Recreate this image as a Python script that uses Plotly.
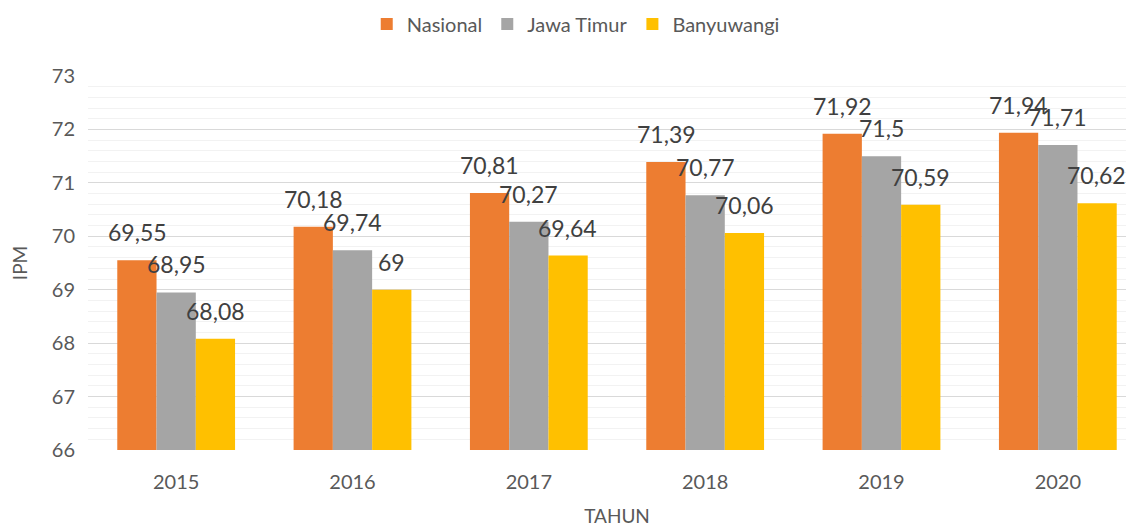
import plotly.graph_objects as go

years = ["2015", "2016", "2017", "2018", "2019", "2020"]
nasional = [69.55, 70.18, 70.81, 71.39, 71.92, 71.94]
jatim = [68.95, 69.74, 70.27, 70.77, 71.5, 71.71]
banyuwangi = [68.08, 69.0, 69.64, 70.06, 70.59, 70.62]

series = [
    ("Nasional", nasional, "#ED7D31"),
    ("Jawa Timur", jatim, "#A5A5A5"),
    ("Banyuwangi", banyuwangi, "#FFC000"),
]

FONT = "Lato, 'Open Sans', sans-serif"

def fmt(v):
    s = ("%.2f" % v).rstrip("0").rstrip(".")
    return s.replace(".", ",")

fig = go.Figure()
for name, vals, col in series:
    fig.add_trace(go.Bar(x=years, y=[v - 66 for v in vals], base=66, name=name,
                         marker=dict(color=col, line=dict(width=0)),
                         hoverinfo="skip"))

shifts = [-39, 0, 39]
for (name, vals, col), xs in zip(series, shifts):
    for i, v in enumerate(vals):
        fig.add_annotation(x=i, y=v, text=fmt(v), showarrow=False,
                           xshift=xs, yshift=12, yanchor="bottom",
                           font=dict(family=FONT, size=23, color="#404040"))

fig.update_layout(
    width=1140, height=519,
    margin=dict(l=80, r=2, t=68, b=77, autoexpand=False),
    paper_bgcolor="white", plot_bgcolor="white",
    barmode="group", bargap=0.332, bargroupgap=0,
    font=dict(family=FONT, color="#595959", size=20),
    legend=dict(orientation="h", x=0.461, xanchor="center", y=1.139, yanchor="middle",
                font=dict(size=20, color="#595959"), itemwidth=30,
                traceorder="normal"),
    xaxis=dict(type="category", range=[-0.5, 5.5], showgrid=False, showline=False, ticks="",
               automargin=False, ticklabelstandoff=18,
               tickfont=dict(size=20, color="#595959"),
               title=dict(text="TAHUN", font=dict(size=19, color="#595959"), standoff=26)),
    yaxis=dict(range=[66, 73], dtick=1, tick0=66, showgrid=True, gridcolor="#D9D9D9",
               gridwidth=1.2, zeroline=False, showline=False, ticks="", automargin=False,
               tickfont=dict(size=20, color="#595959"), ticklabelstandoff=12,
               minor=dict(dtick=0.2, tick0=66, showgrid=True, gridcolor="#F2F2F2", gridwidth=1),
               title=dict(text="IPM", font=dict(size=19, color="#595959"), standoff=20)),
)

fig.write_html("out.html")
